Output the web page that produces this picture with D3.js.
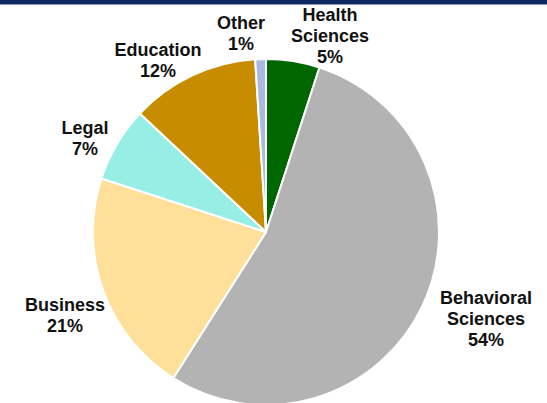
<!DOCTYPE html>
<html>
<head>
<meta charset="utf-8">
<script src="https://cdn.jsdelivr.net/npm/d3@7"></script>
<style>
  html, body { margin: 0; padding: 0; background: #fff; }
  svg { display: block; }
</style>
</head>
<body>
<div id="chart"></div>
<script>
// Share of enrolment by field
const categories = ["Health Sciences", "Behavioral Sciences", "Business", "Legal", "Education", "Other"];
const shares = [5, 54, 21, 7, 12, 1];
const labelLines = [["Health", "Sciences", "5%"], ["Behavioral", "Sciences", "54%"], ["Business", "21%"], ["Legal", "7%"], ["Education", "12%"], ["Other", "1%"]];

// Layout
const W = 547, H = 403;
const cx = 266, cy = 232, radius = 173;
const colors = ["#006600", "#b3b3b3", "#ffe09b", "#97eee4", "#c88c00", "#a9b9e1"];
// label block centres, relative to the pie centre
const labelOffsets = [[64, -197], [220, 86], [-201, 83], [-181, -94], [-108, -172], [-25, -199]];
const fontSize = 18, lineGap = 21, capH = 13;

const svg = d3.select("#chart").append("svg")
  .attr("width", W).attr("height", H);

// header rule
svg.append("rect").attr("x", 0).attr("y", 0).attr("width", W).attr("height", 4).attr("fill", "#0b2865");
svg.append("rect").attr("x", 0).attr("y", 4).attr("width", W).attr("height", 1).attr("fill", "#8d99b4");

const data = categories.map((c, i) => ({ name: c, value: shares[i], color: colors[i], lines: labelLines[i], off: labelOffsets[i] }));

const pie = d3.pie().value(d => d.value).sort(null).startAngle(0).endAngle(2 * Math.PI);
const arc = d3.arc().innerRadius(0).outerRadius(radius);

const g = svg.append("g").attr("transform", `translate(${cx},${cy})`);

g.selectAll("path.slice")
  .data(pie(data))
  .join("path")
  .attr("class", "slice")
  .attr("d", arc)
  .attr("fill", d => d.data.color)
  .attr("stroke", "#fff")
  .attr("stroke-width", 2)
  .attr("stroke-linejoin", "round");

const labels = g.selectAll("text.lbl")
  .data(pie(data))
  .join("text")
  .attr("class", "lbl")
  .attr("text-anchor", "middle")
  .attr("font-family", "'Liberation Sans', Arial, sans-serif")
  .attr("font-weight", "bold")
  .attr("font-size", fontSize)
  .attr("fill", "#111");

labels.each(function(d) {
  const n = d.data.lines.length;
  const blockH = capH + (n - 1) * lineGap;
  const firstBase = d.data.off[1] - blockH / 2 + capH;
  d3.select(this).selectAll("tspan")
    .data(d.data.lines)
    .join("tspan")
    .attr("x", d.data.off[0])
    .attr("y", (t, i) => firstBase + i * lineGap)
    .text(t => t);
});
</script>
</body>
</html>
